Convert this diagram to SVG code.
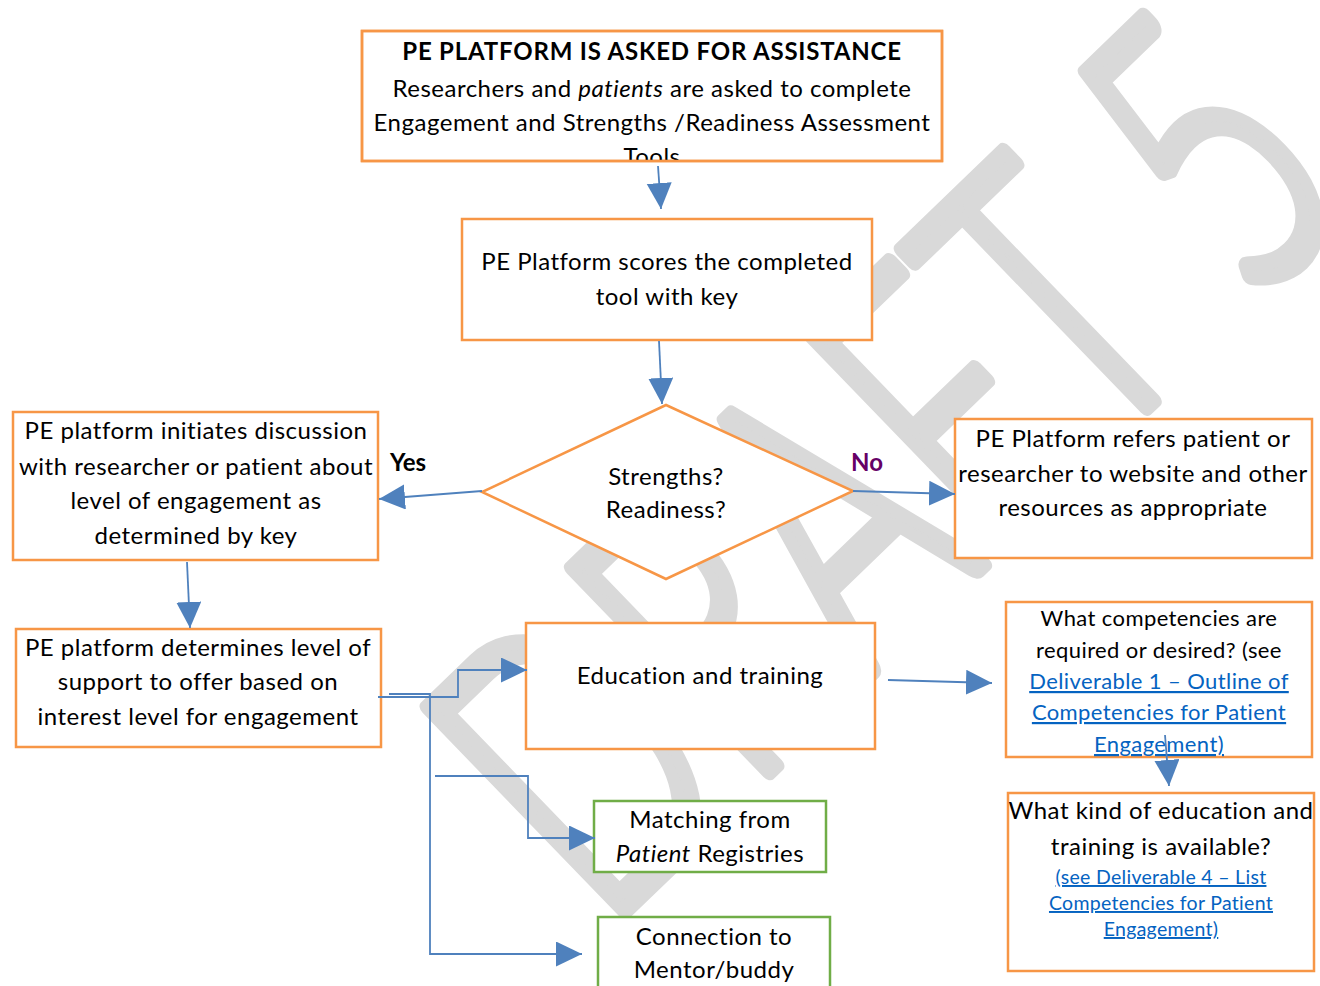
<svg xmlns="http://www.w3.org/2000/svg" width="1320" height="986" viewBox="0 0 1320 986">
<style>
.box{fill:#fff;stroke:#F79646;stroke-width:2.5}
.gbox{fill:#fff;stroke:#70AD47;stroke-width:2.5}
.t{font-family:Lato,"Open Sans","Liberation Sans",sans-serif;font-size:24px;letter-spacing:0.5px;fill:#000;text-anchor:middle}
.s{font-size:22px;letter-spacing:0.4px}
.xs{font-size:19.5px;letter-spacing:0.3px}
.b{font-weight:bold;letter-spacing:0.8px}
.i{font-style:italic}
.link{fill:#0563C1;text-decoration:underline}
.conn{fill:none;stroke:#4F81BD;stroke-width:1.8}
.wm{font-family:Lato,"Open Sans",sans-serif;font-size:400px;font-weight:300;fill:#D9D9D9;stroke:#D9D9D9;stroke-width:17;stroke-linejoin:round;stroke-linecap:round;text-anchor:middle}
</style>
<defs>
<marker id="ah" markerUnits="userSpaceOnUse" markerWidth="26" markerHeight="26" refX="26" refY="12.5" orient="auto">
<path d="M0,0 L26,12.5 L0,25 Z" fill="#4F81BD"/>
</marker>
<clipPath id="clip1"><rect x="362" y="31" width="580" height="129"/></clipPath>
</defs>
<rect width="1320" height="986" fill="#fff"/>
<g id="watermark" transform="translate(982,566) rotate(-44) scale(0.66,1)">
<text class="wm" x="0" y="0">DRAFT 5</text>
</g>
<g id="n1">
<rect class="box" x="362" y="31" width="580" height="130"/>
<g clip-path="url(#clip1)">
<text class="t b" x="652" y="60">PE PLATFORM IS ASKED FOR ASSISTANCE</text>
<text class="t" x="652" y="97">Researchers and <tspan class="i">patients</tspan> are asked to complete</text>
<text class="t" x="652" y="131">Engagement and Strengths /Readiness Assessment</text>
<text class="t" x="652" y="165">Tools</text>
</g>
<rect x="362" y="31" width="580" height="130" fill="none" stroke="#F79646" stroke-width="2.5"/>
</g>
<g id="n2">
<rect class="box" x="462" y="219" width="410" height="121"/>
<text class="t" x="667" y="270">PE Platform scores the completed</text>
<text class="t" x="667" y="305">tool with key</text>
</g>
<g id="n3">
<polygon class="box" points="666,405 853,491 666,579 482,492"/>
<text class="t" x="666" y="485">Strengths?</text>
<text class="t" x="666" y="518">Readiness?</text>
</g>
<g id="n4">
<rect class="box" x="13" y="412" width="365" height="148"/>
<text class="t" x="196" y="439">PE platform initiates discussion</text>
<text class="t" x="196" y="475">with researcher or patient about</text>
<text class="t" x="196" y="509">level of engagement as</text>
<text class="t" x="196" y="544">determined by key</text>
</g>
<g id="n5">
<rect class="box" x="955" y="419" width="357" height="139"/>
<text class="t" x="1133" y="447">PE Platform refers patient or</text>
<text class="t" x="1133" y="482">researcher to website and other</text>
<text class="t" x="1133" y="516">resources as appropriate</text>
</g>
<g id="n6">
<rect class="box" x="16" y="629" width="365" height="118"/>
<text class="t" x="198" y="656">PE platform determines level of</text>
<text class="t" x="198" y="690">support to offer based on</text>
<text class="t" x="198" y="725">interest level for engagement</text>
</g>
<g id="n7">
<rect class="box" x="526" y="623" width="349" height="126"/>
<text class="t" x="700" y="684">Education and training</text>
</g>
<g id="n8">
<rect class="box" x="1006" y="602" width="306" height="155"/>
<text class="t s" x="1159" y="626">What competencies are</text>
<text class="t s" x="1159" y="658">required or desired? (see</text>
<text class="t s link" x="1159" y="689">Deliverable 1 – Outline of</text>
<text class="t s link" x="1159" y="720">Competencies for Patient</text>
<text class="t s link" x="1159" y="752">Engagement)</text>
</g>
<g id="n9">
<rect class="box" x="1008" y="793" width="306" height="178"/>
<text class="t" x="1161" y="819">What kind of education and</text>
<text class="t" x="1161" y="855">training is available?</text>
<text class="t xs link" x="1161" y="884">(see Deliverable 4 – List</text>
<text class="t xs link" x="1161" y="910">Competencies for Patient</text>
<text class="t xs link" x="1161" y="936">Engagement)</text>
</g>
<g id="n10">
<rect class="gbox" x="594" y="801" width="232" height="71"/>
<text class="t" x="710" y="828">Matching from</text>
<text class="t" x="710" y="862"><tspan class="i">Patient</tspan> Registries</text>
</g>
<g id="n11">
<rect class="gbox" x="598" y="917" width="232" height="80"/>
<text class="t" x="714" y="945">Connection to</text>
<text class="t" x="714" y="978">Mentor/buddy</text>
</g>
<g id="connectors">
<line class="conn" x1="658" y1="166" x2="661" y2="209" marker-end="url(#ah)"/>
<line class="conn" x1="659" y1="341" x2="662" y2="404" marker-end="url(#ah)"/>
<line class="conn" x1="482" y1="491" x2="379" y2="499" marker-end="url(#ah)"/>
<line class="conn" x1="853" y1="491" x2="955" y2="494" marker-end="url(#ah)"/>
<line class="conn" x1="187" y1="562" x2="190" y2="628" marker-end="url(#ah)"/>
<line class="conn" x1="888" y1="680" x2="992" y2="683" marker-end="url(#ah)"/>
<line class="conn" x1="1165" y1="735" x2="1169" y2="786" marker-end="url(#ah)"/>
<polyline class="conn" points="378,697 458,697 458,670 527,670" marker-end="url(#ah)"/>
<polyline class="conn" points="389,694 430,694 430,954 582,954" marker-end="url(#ah)"/>
<polyline class="conn" points="435,776 528,776 528,838 595,838" marker-end="url(#ah)"/>
<text class="t b" x="408" y="471" style="letter-spacing:0">Yes</text>
<text class="t b" x="867" y="471" style="fill:#660066;letter-spacing:0">No</text>
</g>
</svg>
